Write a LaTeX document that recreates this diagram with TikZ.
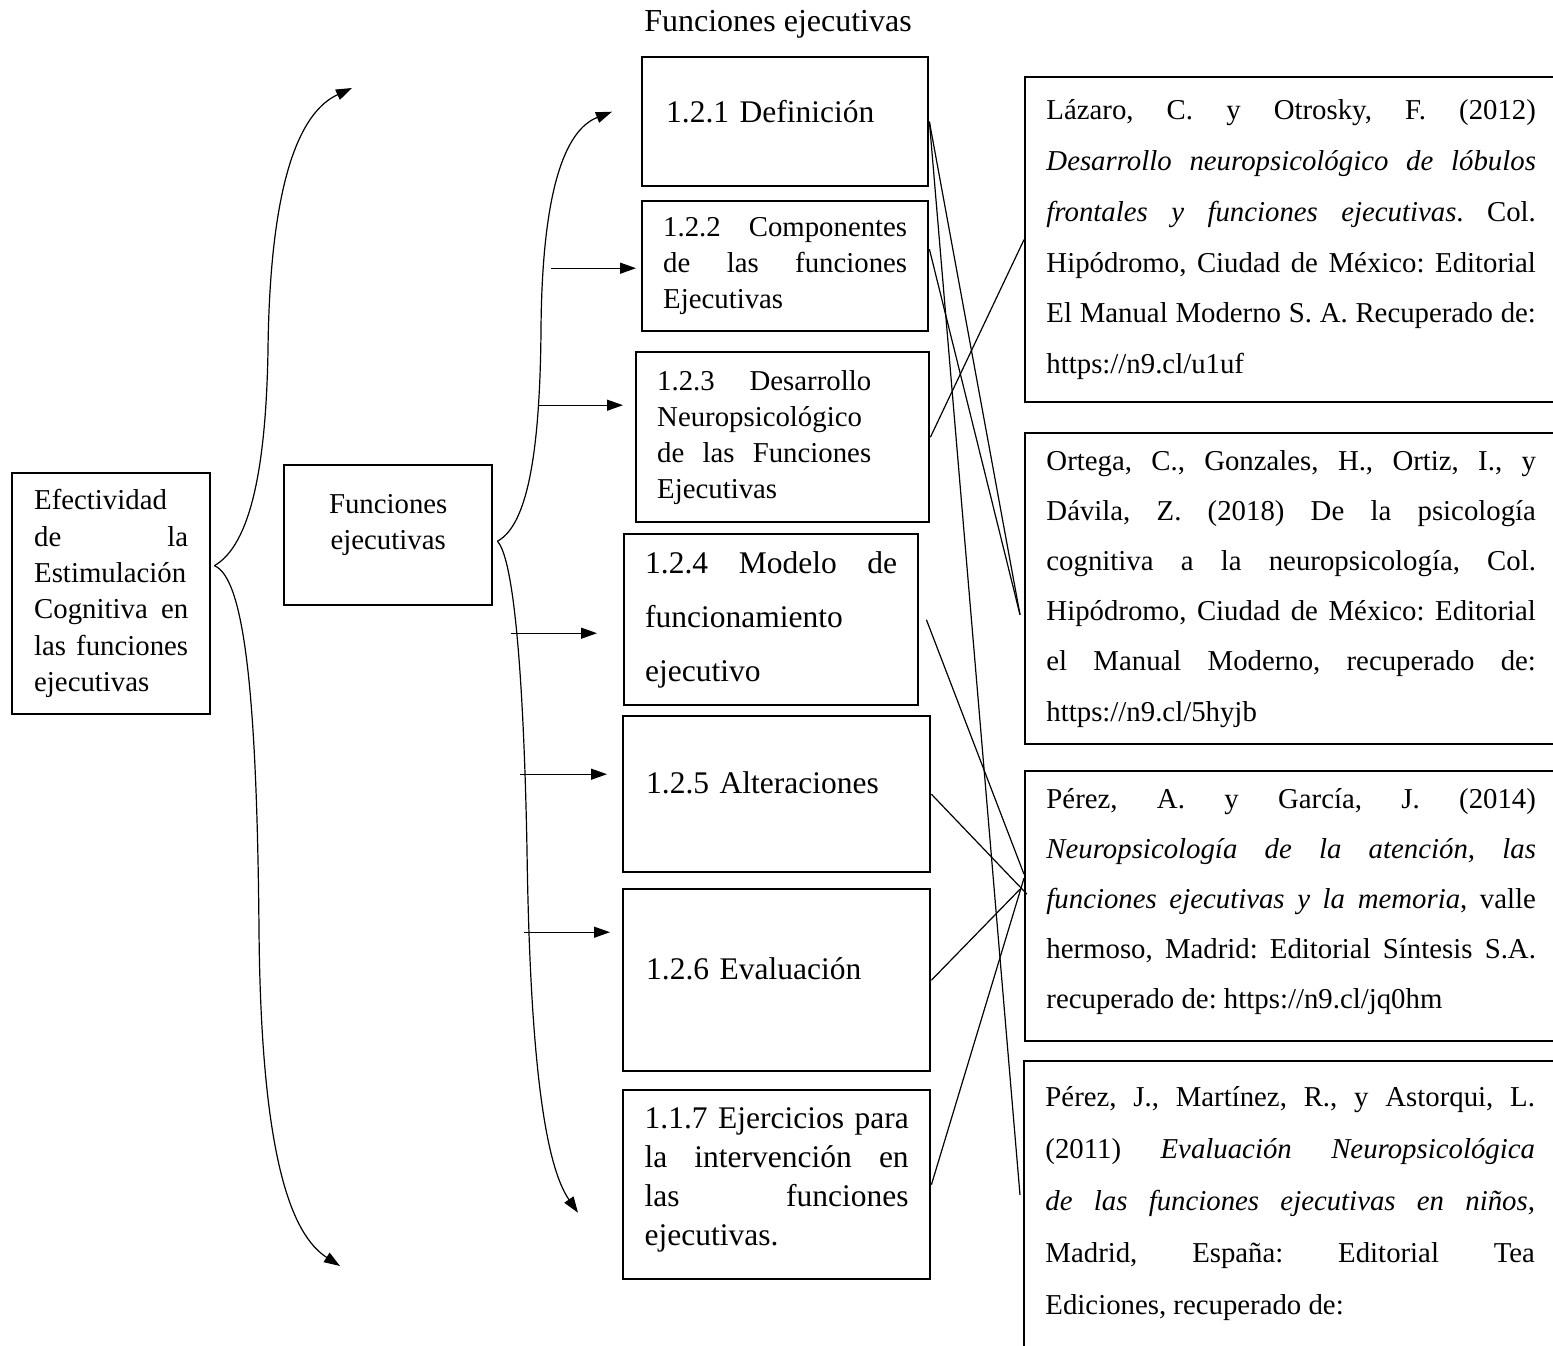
\documentclass[tikz,border=0pt]{standalone}
\usepackage{fontspec}
\setmainfont{Liberation Serif}
\usetikzlibrary{arrows.meta}
\tolerance=10000
\hbadness=10000
\frenchspacing
\newcommand\lift[1]{\par\vspace{#1}\kern0pt}

\begin{document}
\begin{tikzpicture}[x=0.5pt, y=-0.5pt]
    \tikzset{box/.style={draw, line width=1.2pt, anchor=north west, inner xsep=0pt, inner ysep=0pt,
                         align=justify, font=\fontsize{14.4}{18}\selectfont},
             big/.style={font=\fontsize{15.75}{19}\selectfont},
             refbox/.style={box, minimum width=266pt, text width=244.75pt},
             ln/.style={line width=0.6pt},
             arr/.style={line width=0.6pt, -{Triangle[length=8pt, width=5.5pt]}}};

    \clip (0, 0) rectangle (1553, 1345);

    % Title
    \node[font=\fontsize{16}{19}\selectfont] (title) at (778, 24) {Funciones ejecutivas};

    % Root
    \node[box, minimum width=99pt, minimum height=120.5pt, text width=77pt,
          font=\fontsize{14.4}{18.2}\selectfont] (ef) at (11, 472)
        {Efectividad\linebreak de la\linebreak Estimulación\linebreak Cognitiva en\linebreak las funciones\linebreak ejecutivas};

    % Level 1
    \node[box, minimum width=104pt, minimum height=70pt, text width=90pt, align=center] (fe) at (283, 464)
        {Funciones\\ejecutivas\lift{10pt}};

    % Level 2
    \node[box, big, minimum width=143pt, minimum height=64.5pt, text width=119pt, align=left] (def) at (641, 56)
        {1.2.1 Definición\lift{10pt}};
    \node[box, minimum width=143pt, minimum height=65pt, text width=122pt] (comp) at (641, 200)
        {1.2.2 Componentes\linebreak de las funciones\linebreak Ejecutivas};
    \node[box, minimum width=146.5pt, minimum height=85pt, text width=125.5pt, align=left] (desa) at (635, 351)
        {\makebox[107pt][l]{1.2.3\hfill Desarrollo}\\Neuropsicológico\\\makebox[107pt][l]{de\hfill las\hfill Funciones}\\Ejecutivas};
    \node[box, minimum width=147pt, minimum height=85.5pt, text width=126pt,
          font=\fontsize{15.75}{27}\selectfont] (mod) at (623, 533)
        {1.2.4 Modelo de\linebreak funcionamiento\linebreak ejecutivo};
    \node[box, big, minimum width=153.5pt, minimum height=78pt, text width=130.5pt, align=left] (alt) at (622, 715)
        {1.2.5 Alteraciones\lift{11pt}};
    \node[box, big, minimum width=153.5pt, minimum height=91pt, text width=130.5pt, align=left] (eval) at (622, 888)
        {1.2.6 Evaluación\lift{11pt}};
    \node[box, minimum width=153.5pt, minimum height=94.5pt, text width=132pt,
          font=\fontsize{15.75}{19.5}\selectfont] (ejer) at (622, 1089)
        {1.1.7 Ejercicios para\linebreak la intervención en\linebreak las funciones\linebreak ejecutivas.\lift{5pt}};

    % References
    \node[refbox, minimum height=162.5pt, font=\fontsize{14.4}{25.4}\selectfont] (laz) at (1024, 76)
        {Lázaro, C. y Otrosky, F. (2012)\linebreak \textit{Desarrollo neuropsicológico de lóbulos\linebreak
         frontales y funciones ejecutivas}. Col.\linebreak Hipódromo, Ciudad de México: Editorial\linebreak
         El Manual Moderno S. A. Recuperado de:\linebreak https://n9.cl/u1uf};
    \node[refbox, minimum height=155.5pt, font=\fontsize{14.4}{25.1}\selectfont] (ort) at (1024, 432)
        {Ortega, C., Gonzales, H., Ortiz, I., y\linebreak Dávila, Z. (2018) De la psicología\linebreak
         cognitiva a la neuropsicología, Col.\linebreak Hipódromo, Ciudad de México: Editorial\linebreak
         el Manual Moderno, recuperado de:\linebreak https://n9.cl/5hyjb};
    \node[refbox, minimum height=135pt, font=\fontsize{14.4}{25}\selectfont] (pa) at (1024, 770)
        {Pérez, A. y García, J. (2014)\linebreak \textit{Neuropsicología de la atención, las\linebreak
         funciones ejecutivas y la memoria}, valle\linebreak hermoso, Madrid: Editorial Síntesis S.A.\linebreak
         recuperado de: https://n9.cl/jq0hm\lift{5pt}};
    \node[refbox, inner ysep=12.5pt, font=\fontsize{14.4}{26}\selectfont] (pj) at (1023, 1060)
        {Pérez, J., Martínez, R., y Astorqui, L.\linebreak (2011) \textit{Evaluación Neuropsicológica\linebreak
         de las funciones ejecutivas en niños,}\linebreak Madrid, España: Editorial Tea\linebreak
         Ediciones, recuperado de:\lift{40pt}};

    % Braces
    \coordinate (up1) at (352, 88);
    \coordinate (dn1) at (340, 1266);
    \draw[arr] ([xshift=1.5pt, yshift=14pt]ef.east) .. controls (250, 545) and (266, 470) .. (268, 350)
        .. controls (270, 180) and (300, 112) .. (up1);
    \draw[arr] ([xshift=1.5pt, yshift=14pt]ef.east) .. controls (245, 578) and (257, 700) .. (259, 930)
        .. controls (261, 1160) and (292, 1235) .. (dn1);
    \draw[arr] ([xshift=2pt, yshift=-3pt]fe.east) .. controls (528, 525) and (540, 450) .. (541, 330)
        .. controls (542, 190) and (565, 130) .. ([xshift=-14.5pt, yshift=5pt]def.west);
    \draw[arr] ([xshift=2pt, yshift=-3pt]fe.east) .. controls (515, 560) and (524, 690) .. (527, 850)
        .. controls (530, 1060) and (545, 1165) .. ([xshift=-22pt, yshift=-14pt]ejer.west);

    % Arrows
    \foreach \n/\s/\a/\b in {comp/-1pt/-45pt/-2.5pt, desa/16pt/-48pt/-6pt, mod/-6.75pt/-56pt/-13pt,
                             alt/10pt/-51pt/-7.5pt, eval/24pt/-49pt/-6pt}
        { \draw[arr] ([xshift=\a, yshift=\s]\n.west) -- ([xshift=\b, yshift=\s]\n.west); }

    % Links
    \draw[ln] (def.east) -- ([xshift=-2pt, yshift=-13pt]ort.west);
    \draw[ln] (def.east) -- ([xshift=-1.5pt, yshift=-67.5pt]pj.north west);
    \draw[ln] ([yshift=8.5pt]comp.east) -- ([xshift=-2pt, yshift=-13pt]ort.west);
    \draw[ln] (desa.east) -- (laz.west);
    \draw[ln] ([xshift=3.5pt]mod.east) -- ([yshift=16pt]pa.west);
    \foreach \i/\j/\k in {alt/1.5pt/6pt, eval/-2pt/8.5pt, ejer/0pt/14pt}
        { \draw[ln] (\i.east) -- ([xshift=\j, yshift=\k]pa.west); }
\end{tikzpicture}
\end{document}
